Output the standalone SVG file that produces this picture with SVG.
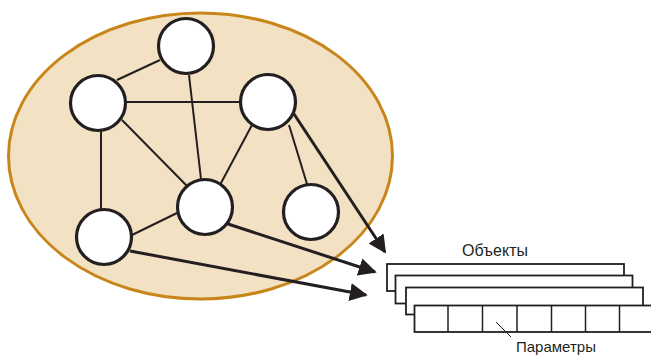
<svg xmlns="http://www.w3.org/2000/svg" width="651" height="356" viewBox="0 0 651 356">
<style>
.node{fill:#fff;stroke:#231f20;stroke-width:3.2}
.edge{stroke:#231f20;stroke-width:2;fill:none}
.arrow{stroke:#231f20;stroke-width:3;fill:none;marker-end:url(#ah)}
.rec{fill:#fff;stroke:#231f20;stroke-width:1.8}
.cell{stroke:#231f20;stroke-width:1.5}
.lbl{font-family:"Liberation Sans",Arial,sans-serif;font-size:15px;fill:#231f20}
</style>
<defs>
<marker id="ah" viewBox="0 0 10 10" refX="9" refY="5" markerWidth="6" markerHeight="6" markerUnits="strokeWidth" orient="auto">
<path d="M0,0 L10,5 L0,10 z" fill="#231f20"/>
</marker>
</defs>
<ellipse id="cloud" cx="200.5" cy="156" rx="192" ry="143" fill="#f3e1c4" stroke="#c8861a" stroke-width="3"/>
<g id="connectors">
<line class="edge" x1="160" y1="60" x2="117" y2="80"/>
<line class="edge" x1="126" y1="102" x2="240" y2="102"/>
<line class="edge" x1="189" y1="75" x2="201" y2="179"/>
<line class="edge" x1="122" y1="120" x2="187" y2="186"/>
<line class="edge" x1="101" y1="131" x2="101" y2="209"/>
<line class="edge" x1="252" y1="125" x2="221" y2="183"/>
<line class="edge" x1="289" y1="125" x2="307" y2="184"/>
<line class="edge" x1="132" y1="235" x2="177" y2="213"/>
<line class="arrow" x1="294" y1="114" x2="385" y2="252"/>
<line class="arrow" x1="228" y1="224" x2="375" y2="272"/>
<line class="arrow" x1="130" y1="251" x2="366" y2="295"/>
</g>
<g id="n1"><circle class="node" cx="186" cy="46" r="27.5"/></g>
<g id="n2"><circle class="node" cx="98" cy="103" r="27.5"/></g>
<g id="n3"><circle class="node" cx="268" cy="102" r="27.5"/></g>
<g id="n4"><circle class="node" cx="205" cy="207" r="27.5"/></g>
<g id="n5"><circle class="node" cx="104" cy="237" r="27.5"/></g>
<g id="n6"><circle class="node" cx="311" cy="212" r="27.5"/></g>
<g id="objects">
<rect class="rec" x="387" y="264" width="237" height="27"/>
<rect class="rec" x="395.5" y="275.5" width="237" height="28"/>
<rect class="rec" x="406" y="287.5" width="237" height="27"/>
<rect class="rec" x="414.5" y="305.5" width="240" height="26.5"/>
<line class="cell" x1="448" y1="305.5" x2="448" y2="332"/>
<line class="cell" x1="482.5" y1="305.5" x2="482.5" y2="332"/>
<line class="cell" x1="517" y1="305.5" x2="517" y2="332"/>
<line class="cell" x1="551.5" y1="305.5" x2="551.5" y2="332"/>
<line class="cell" x1="585.5" y1="305.5" x2="585.5" y2="332"/>
<line class="cell" x1="619.5" y1="305.5" x2="619.5" y2="332"/>
<line stroke="#231f20" stroke-width="1" x1="496" y1="322" x2="511" y2="337"/>
<text class="lbl" x="462" y="256" style="font-size:16px">Объекты</text>
<text class="lbl" x="516" y="352">Параметры</text>
</g>
</svg>
